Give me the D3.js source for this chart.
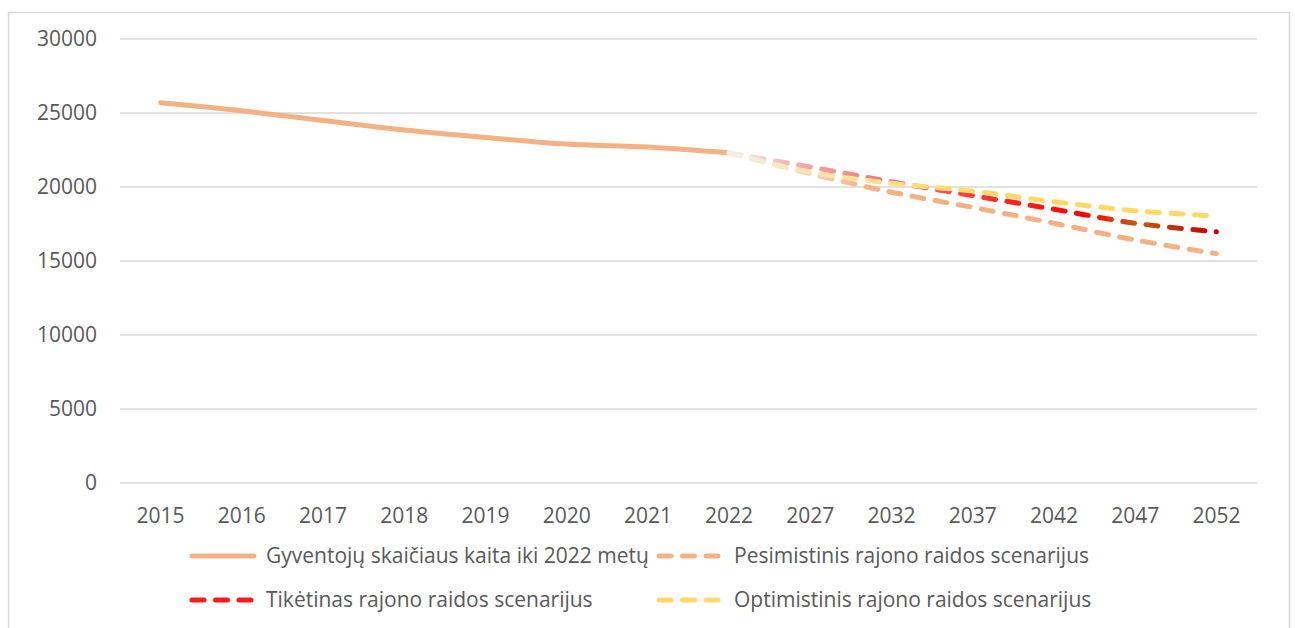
<!DOCTYPE html>
<html>
<head>
<meta charset="utf-8">
<script src="https://cdn.jsdelivr.net/npm/d3@7"></script>
<style>
  body { margin: 0; background: #fff; }
  svg text { font-family: 'Open Sans', 'Liberation Sans', sans-serif; fill: #595959; }
</style>
</head>
<body>
<svg id="chart" width="1295" height="628"></svg>
<script>
// categories
const years = ['2015', '2016', '2017', '2018', '2019', '2020', '2021', '2022', '2027', '2032', '2037', '2042', '2047', '2052']
const histYears = ['2015', '2016', '2017', '2018', '2019', '2020', '2021', '2022']
const scenYears = ['2022', '2027', '2032', '2037', '2042', '2047', '2052']

// values
const history = [25700, 25150, 24500, 23850, 23350, 22900, 22700, 22300]
const pessimistic = [22300, 20900, 19650, 18620, 17550, 16420, 15500]
const likely = [22300, 21350, 20350, 19420, 18500, 17550, 16980]
const optimistic = [22300, 21000, 20250, 19720, 19000, 18400, 18040]

const yTicks = [0, 5000, 10000, 15000, 20000, 25000, 30000]
const legendNames = [
  'Gyventojų skaičiaus kaita iki 2022 metų',
  'Pesimistinis rajono raidos scenarijus',
  'Tikėtinas rajono raidos scenarijus',
  'Optimistinis rajono raidos scenarijus'
]

const svg = d3.select('#chart')
const plotL = 120, plotR = 1257, plotT = 39, plotB = 483

// chart border
svg.append('rect')
  .attr('x', 8.5).attr('y', 12.5)
  .attr('width', 1281).attr('height', 640)
  .attr('fill', 'none')
  .attr('stroke', '#d9d9d9')
  .attr('stroke-width', 1.5)

let x = d3.scaleBand().domain(years).range([plotL, plotR])
let y = d3.scaleLinear().domain([0, 30000]).range([plotB, plotT])
let cx = d => x(d) + x.bandwidth() / 2

// grid + y labels
svg.append('g').selectAll('line').data(yTicks).enter()
  .append('line')
  .attr('x1', plotL).attr('x2', plotR)
  .attr('y1', d => y(d)).attr('y2', d => y(d))
  .attr('stroke', '#d9d9d9')
  .attr('stroke-width', 1.5)

svg.append('g').selectAll('text').data(yTicks).enter()
  .append('text')
  .attr('x', 97)
  .attr('y', d => y(d))
  .attr('dy', '0.35em')
  .attr('text-anchor', 'end')
  .style('font-size', '21px')
  .text(d => d)

svg.append('g').selectAll('text').data(years).enter()
  .append('text')
  .attr('x', d => cx(d))
  .attr('y', 523)
  .attr('text-anchor', 'middle')
  .style('font-size', '21px')
  .text(d => d)

// gradients for the scenario lines
let defs = svg.append('defs')
function gradient (id, stops) {
  let g = defs.append('linearGradient')
    .attr('id', id)
    .attr('gradientUnits', 'userSpaceOnUse')
    .attr('x1', cx('2022')).attr('x2', cx('2052'))
    .attr('y1', 0).attr('y2', 0)
  stops.forEach(s => g.append('stop').attr('offset', s[0]).attr('stop-color', s[1]))
}
gradient('gPes', [[0, '#f6f0ea'], [0.3, '#f4b183'], [1, '#f4b183']])
gradient('gLik', [[0, '#f3eeea'], [0.15, '#f6a8a8'], [0.35, '#f56a6a'], [0.55, '#ff2a2a'], [0.72, '#ff0000'], [0.84, '#c55a11'], [1, '#c00000']])
gradient('gOpt', [[0, '#f3f0e8'], [0.15, '#fbe6b0'], [0.4, '#ffdc78'], [0.55, '#ffd966'], [1, '#ffd966']])

let line = d3.line()
  .x(d => cx(d[0]))
  .y(d => y(d[1]))
  .curve(d3.curveCatmullRom.alpha(0))

let series = [
  { years: histYears, values: history, stroke: '#f4b183', dash: null },
  { years: scenYears, values: pessimistic, stroke: 'url(#gPes)', dash: '12 11.5' },
  { years: scenYears, values: likely, stroke: 'url(#gLik)', dash: '12 11.5' },
  { years: scenYears, values: optimistic, stroke: 'url(#gOpt)', dash: '12 11.5' }
]

series.forEach(s => {
  svg.append('path')
    .datum(s.years.map((yr, i) => [yr, s.values[i]]))
    .attr('d', line)
    .attr('fill', 'none')
    .attr('stroke', s.stroke)
    .attr('stroke-width', 5)
    .attr('stroke-linecap', 'round')
    .attr('stroke-dasharray', s.dash)
})

// legend
let legendPos = [[190, 556], [657, 556], [190, 600], [657, 600]]
let legendColors = ['#f4b183', '#f4b183', '#ff1a1a', '#ffd966']
let lg = svg.append('g')
legendNames.forEach((name, i) => {
  let p = legendPos[i]
  lg.append('line')
    .attr('x1', p[0] + 2).attr('x2', p[0] + 64)
    .attr('y1', p[1]).attr('y2', p[1])
    .attr('stroke', legendColors[i])
    .attr('stroke-width', 5)
    .attr('stroke-linecap', 'round')
    .attr('stroke-dasharray', i === 0 ? null : '12 11.5')
  lg.append('text')
    .attr('x', i % 2 === 0 ? 266 : 734)
    .attr('y', p[1])
    .attr('dy', '0.35em')
    .style('font-size', '21px')
    .text(name)
})
</script>
</body>
</html>
